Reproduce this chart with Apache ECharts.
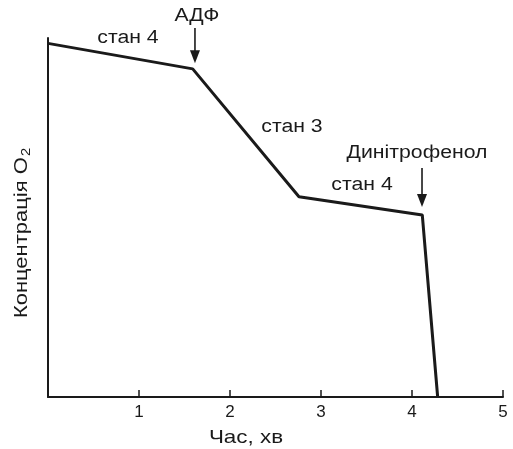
<!DOCTYPE html>
<html><head><meta charset="utf-8">
<script src="https://cdn.jsdelivr.net/npm/echarts@6/dist/echarts.min.js"></script>
<style>html,body{margin:0;padding:0;background:#fff}#c{width:513px;height:449px}</style>
</head><body><div id="c"></div>
<script>
// data
var timeMin = [0, 1.59, 2.758, 4.113, 4.282];
var oxygen = [98.5, 91.4, 55.8, 50.7, 0];
var xTicks = [1, 2, 3, 4, 5];
var notes = ['стан 4', 'АДФ', 'стан 3', 'Динітрофенол', 'стан 4'];
var noteX = [0.879, 1.637, 2.681, 4.055, 3.451];
var noteY = [100, 106.1, 75.2, 68.0, 59.0];
var arrowX = [1.615, 4.11];
var arrowTop = [102.8, 63.8];
var arrowBottom = [93.0, 52.9];

var ff = '"Liberation Sans", Arial, Helvetica, sans-serif';
var ink = '#1a1a1a';
var SX = 1.18;
var chart = echarts.init(document.getElementById('c'));
var lineData = timeMin.map(function (t, i) { return [t, oxygen[i]]; });
chart.setOption({
  animation: false,
  grid: { left: 48, right: 10, top: 38, bottom: 52 },
  xAxis: {
    type: 'value', min: 0, max: 5, interval: 1,
    axisLine: { lineStyle: { color: ink, width: 2 } },
    axisTick: { inside: true, length: 7, lineStyle: { color: ink, width: 1.5 } },
    splitLine: { show: false },
    axisLabel: {
      color: ink, fontSize: 17, fontFamily: ff, margin: 7,
      formatter: function (v) { return xTicks.indexOf(v) >= 0 ? String(v) : ''; }
    }
  },
  yAxis: {
    type: 'value', min: 0, max: 100,
    axisLine: { show: true, lineStyle: { color: ink, width: 2 } },
    axisTick: { show: false }, axisLabel: { show: false }, splitLine: { show: false }
  },
  series: [{
    type: 'line', data: lineData, symbol: 'none', clip: false,
    lineStyle: { color: ink, width: 3 }
  }]
});

var g = [];
g.push({ type: 'text', x: 246, y: 438, scaleX: SX,
  style: { text: 'Час, хв', font: '19px ' + ff, fill: ink, textAlign: 'center', textVerticalAlign: 'middle' } });
g.push({ type: 'text', x: 22, y: 233, rotation: Math.PI / 2, scaleX: 1.22,
  style: { text: '{a|Концентрація O}{s|2}', fill: ink, textAlign: 'center', textVerticalAlign: 'middle',
    rich: { a: { fontSize: 18, fontFamily: ff, fill: ink },
            s: { fontSize: 12, fontFamily: ff, fill: ink, padding: [10, 0, 0, 1] } } } });
notes.forEach(function (n, i) {
  var p = chart.convertToPixel({ gridIndex: 0 }, [noteX[i], noteY[i]]);
  g.push({ type: 'text', x: p[0], y: p[1], scaleX: SX,
    style: { text: n, font: '18px ' + ff, fill: ink, textAlign: 'center', textVerticalAlign: 'middle' } });
});
arrowX.forEach(function (x, i) {
  var a = chart.convertToPixel({ gridIndex: 0 }, [x, arrowTop[i]]);
  var b = chart.convertToPixel({ gridIndex: 0 }, [x, arrowBottom[i]]);
  g.push({ type: 'line', shape: { x1: a[0], y1: a[1], x2: b[0], y2: b[1] - 8 }, style: { stroke: ink, lineWidth: 1.6 } });
  g.push({ type: 'polygon', shape: { points: [[b[0] - 5, b[1] - 13], [b[0] + 5, b[1] - 13], [b[0], b[1]]] }, style: { fill: ink } });
});
chart.setOption({ graphic: g });
</script></body></html>
